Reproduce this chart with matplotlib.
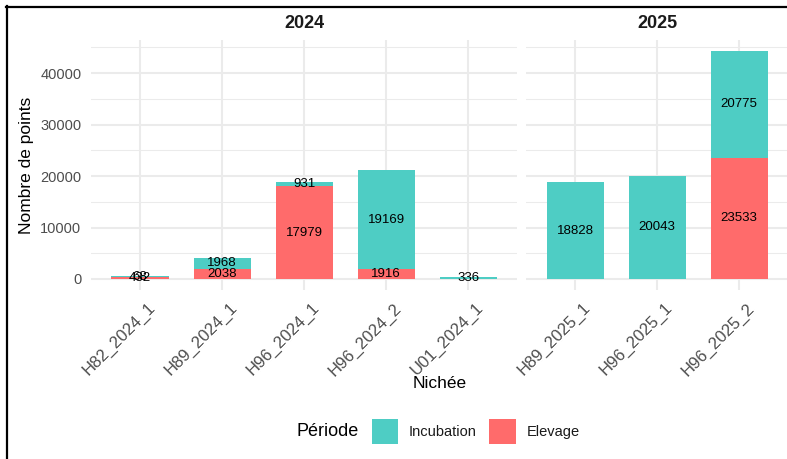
import matplotlib
matplotlib.use("Agg")
import matplotlib.pyplot as plt
from matplotlib.patches import Rectangle
from matplotlib.lines import Line2D
from matplotlib.transforms import ScaledTranslation
import numpy as np

plt.rcParams['font.family'] = ['Liberation Sans', 'DejaVu Sans']

# ---- data ----
cats_2024 = ["H82_2024_1", "H89_2024_1", "H96_2024_1", "H96_2024_2", "U01_2024_1"]
elevage_2024 = [432, 2038, 17979, 1916, 0]
incubation_2024 = [68, 1968, 931, 19169, 336]

cats_2025 = ["H89_2025_1", "H96_2025_1", "H96_2025_2"]
elevage_2025 = [0, 0, 23533]
incubation_2025 = [18828, 20043, 20775]

panel_titles = ["2024", "2025"]
series_names = ["Incubation", "Elevage"]
yticks = [0, 10000, 20000, 30000, 40000]
minor_yticks = [5000, 15000, 25000, 35000, 45000]

COL_INC = "#4ECDC4"
COL_ELE = "#FF6B6B"

W, H = 787, 459
fig = plt.figure(figsize=(W / 100, H / 100), dpi=100)

def fx(x):
    return x / W

def fy(y):
    return 1 - y / H

ytop_px, ybot_px = 39.5, 290.4
step = 82.0
panels = [
    (cats_2024, elevage_2024, incubation_2024, 91.0),
    (cats_2025, elevage_2025, incubation_2025, 526.0),
]

ymax = max(max(np.add(elevage_2024, incubation_2024)), max(np.add(elevage_2025, incubation_2025)))
ylim = (-0.05 * ymax, 1.05 * ymax)

axes = []
for i, (cats, ele, inc, x0) in enumerate(panels):
    n = len(cats)
    wpx = step * (n - 1 + 1.2)
    ax = fig.add_axes([fx(x0), fy(ybot_px), wpx / W, (ybot_px - ytop_px) / H])
    axes.append(ax)
    ax.set_xlim(-0.6, n - 1 + 0.6)
    ax.set_ylim(*ylim)
    for s in ax.spines.values():
        s.set_visible(False)
    ax.set_axisbelow(True)
    ax.set_yticks(yticks)
    ax.set_yticks(minor_yticks, minor=True)
    ax.grid(True, which='major', color='#EBEBEB', linewidth=1.5)
    ax.grid(True, which='minor', axis='y', color='#EBEBEB', linewidth=0.75)
    ax.tick_params(which='both', length=0)
    x = np.arange(n)
    ax.bar(x, ele, width=0.7, color=COL_ELE, linewidth=0, zorder=2)
    ax.bar(x, inc, width=0.7, bottom=ele, color=COL_INC, linewidth=0, zorder=2)
    for xi, e, c in zip(x, ele, inc):
        if e > 0:
            ax.text(xi, e / 2, f"{e}", ha='center', va='center', fontsize=9.5, color='black', zorder=3)
        if c > 0:
            ax.text(xi, e + c / 2, f"{c}", ha='center', va='center', fontsize=9.5, color='black', zorder=3)
    ax.set_xticks(x)
    ax.set_xticklabels(cats, rotation=45, ha='right', va='top', rotation_mode='anchor',
                       fontsize=12, color='#4D4D4D')
    ax.tick_params(axis='x', pad=7)
    off = ScaledTranslation(7 / 100, 0, fig.dpi_scale_trans)
    for lab in ax.get_xticklabels():
        lab.set_transform(lab.get_transform() + off)
    if i == 0:
        ax.set_yticklabels([str(v) for v in yticks], fontsize=10.5, color='#4D4D4D')
        ax.tick_params(axis='y', pad=7)
    else:
        ax.set_yticklabels([])
    ax.text(0.5, (ybot_px - 24) / (ybot_px - ytop_px), panel_titles[i], transform=ax.transAxes,
            ha='center', va='center', fontsize=13, fontweight='bold', color='#1A1A1A')

# axis titles
fig.text(fx(26), fy(165), "Nombre de points", rotation=90, ha='center', va='center', fontsize=12.5, color='black')
fig.text(fx(439.5), fy(383), "Nichée", ha='center', va='center', fontsize=12.5, color='black')

# legend
ly = 432
fig.text(fx(297), fy(ly), "Période", ha='left', va='center', fontsize=13, color='black')
fig.patches.append(Rectangle((fx(372), fy(444)), 26 / W, 25 / H, transform=fig.transFigure,
                             facecolor=COL_INC, edgecolor='none'))
fig.text(fx(409), fy(ly), series_names[0], ha='left', va='center', fontsize=10.5, color='#1A1A1A')
fig.patches.append(Rectangle((fx(489), fy(444)), 27 / W, 25 / H, transform=fig.transFigure,
                             facecolor=COL_ELE, edgecolor='none'))
fig.text(fx(527), fy(ly), series_names[1], ha='left', va='center', fontsize=10.5, color='#1A1A1A')

# screenshot frame
fig.lines.append(Line2D([fx(5.5), 1], [fy(6.5), fy(6.5)], transform=fig.transFigure, color='black', linewidth=1.6))
fig.lines.append(Line2D([fx(6.5), fx(6.5)], [fy(5.5), 0], transform=fig.transFigure, color='black', linewidth=1.6))

fig.savefig("out.png", dpi=100)
